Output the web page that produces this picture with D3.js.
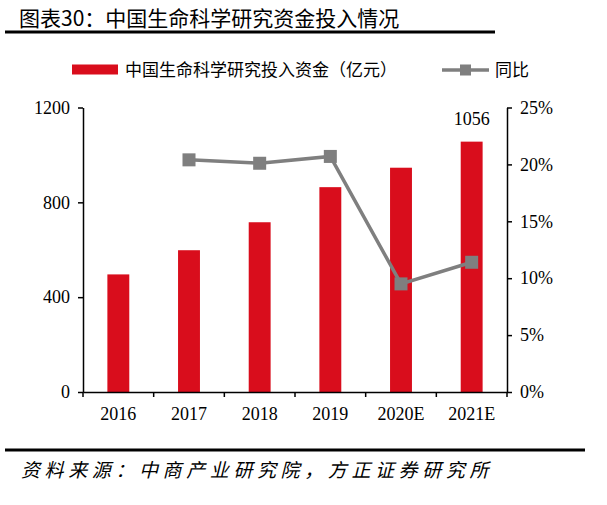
<!DOCTYPE html>
<html>
<head>
<meta charset="utf-8">
<script src="https://cdn.jsdelivr.net/npm/d3@7"></script>
<style>
  body { margin: 0; background: #fff; }
  svg { display: block; }
</style>
</head>
<body>
<div id="chart"></div>
<script>
// data
var years = ['2016', '2017', '2018', '2019', '2020E', '2021E'];
var funding = [496, 598, 716, 864, 946, 1056];      // 亿元
var growth = [null, 20.4, 20.1, 20.7, 9.5, 11.4];   // %
var leftTicks = [0, 400, 800, 1200];
var rightTicks = [0, 5, 10, 15, 20, 25];

var W = 607, H = 505;
var red = '#d90d1c', grey = '#7f7f7f';
var numFont = '"Liberation Serif", "Times New Roman", serif';
var cjkFont = '"Noto Sans CJK SC", "Liberation Serif", serif';

var svg = d3.select('#chart').append('svg').attr('width', W).attr('height', H);

// title
svg.append('text').attr('x', 19).attr('y', 26)
    .attr('font-family', cjkFont).attr('font-size', 21).attr('fill', '#000')
    .text('图表30：中国生命科学研究资金投入情况');
svg.append('rect').attr('x', 5).attr('y', 30.5).attr('width', 490).attr('height', 3).attr('fill', '#000');

// scales
var x = d3.scaleBand().domain(years).range([83, 507]);
var yL = d3.scaleLinear().domain([0, 1200]).range([392, 107.5]);
var yR = d3.scaleLinear().domain([0, 25]).range([392, 107.5]);
var barW = x.bandwidth() * 0.31;

// bars
svg.append('g').selectAll('rect').data(funding).enter().append('rect')
    .attr('x', function(d, i){ return x(years[i]) + x.bandwidth() / 2 - barW / 2; })
    .attr('y', function(d){ return yL(d); })
    .attr('width', barW)
    .attr('height', function(d){ return yL(0) - yL(d); })
    .attr('fill', red);

// label on last bar
var last = funding.length - 1;
svg.append('text')
    .attr('x', x(years[last]) + x.bandwidth() / 2)
    .attr('y', yL(funding[last]) - 17)
    .attr('text-anchor', 'middle')
    .attr('font-family', numFont).attr('font-size', 18)
    .text(funding[last]);

// axes
var axL = svg.append('g').attr('transform', 'translate(83,0)')
    .call(d3.axisLeft(yL).tickValues(leftTicks).tickSize(5).tickPadding(8).tickSizeOuter(0)
        .tickFormat(d3.format('d')));
var axR = svg.append('g').attr('transform', 'translate(507,0)')
    .call(d3.axisRight(yR).tickValues(rightTicks).tickSize(5).tickPadding(8).tickSizeOuter(0)
        .tickFormat(function(d){ return d + '%'; }));
var axX = svg.append('g').attr('transform', 'translate(0,392)')
    .call(d3.axisBottom(x).tickSize(0).tickPadding(15));

// boundary ticks on x axis
svg.append('g').selectAll('line').data(years.concat(['end'])).enter().append('line')
    .attr('x1', function(d, i){ return 83 + i * x.step(); })
    .attr('x2', function(d, i){ return 83 + i * x.step(); })
    .attr('y1', 392).attr('y2', 397)
    .attr('stroke', '#000').attr('stroke-width', 1.5);

[axL, axR, axX].forEach(function(a){
    a.select('.domain').attr('stroke', '#000').attr('stroke-width', 1.5);
    a.selectAll('.tick line').attr('stroke', '#000').attr('stroke-width', 1.5);
    a.selectAll('text').attr('font-family', numFont).attr('font-size', 18).attr('fill', '#000');
});

// growth line
var pts = growth.map(function(v, i){ return {k: years[i], v: v}; }).filter(function(d){ return d.v !== null; });
var line = d3.line()
    .x(function(d){ return x(d.k) + x.bandwidth() / 2; })
    .y(function(d){ return yR(d.v); });
svg.append('path').datum(pts).attr('d', line)
    .attr('fill', 'none').attr('stroke', grey).attr('stroke-width', 3.5);
svg.append('g').selectAll('rect').data(pts).enter().append('rect')
    .attr('x', function(d){ return x(d.k) + x.bandwidth() / 2 - 6.5; })
    .attr('y', function(d){ return yR(d.v) - 6.5; })
    .attr('width', 13).attr('height', 13)
    .attr('fill', grey);

// legend
var lg = svg.append('g');
lg.append('rect').attr('x', 72).attr('y', 64.5).attr('width', 46).attr('height', 10).attr('fill', red);
lg.append('text').attr('x', 125).attr('y', 76)
    .attr('font-family', cjkFont).attr('font-size', 17)
    .text('中国生命科学研究投入资金（亿元）');
lg.append('line').attr('x1', 442).attr('x2', 489).attr('y1', 70).attr('y2', 70)
    .attr('stroke', grey).attr('stroke-width', 3.5);
lg.append('rect').attr('x', 460).attr('y', 64.5).attr('width', 11).attr('height', 11).attr('fill', grey);
lg.append('text').attr('x', 495).attr('y', 76)
    .attr('font-family', cjkFont).attr('font-size', 17)
    .text('同比');

// footer
svg.append('rect').attr('x', 5).attr('y', 448.5).attr('width', 580).attr('height', 3).attr('fill', '#000');
svg.append('text').attr('x', 21).attr('y', 477)
    .attr('font-family', cjkFont).attr('font-size', 19).attr('font-style', 'italic')
    .attr('letter-spacing', 4.6)
    .text('资料来源：中商产业研究院，方正证券研究所');
</script>
</body>
</html>
